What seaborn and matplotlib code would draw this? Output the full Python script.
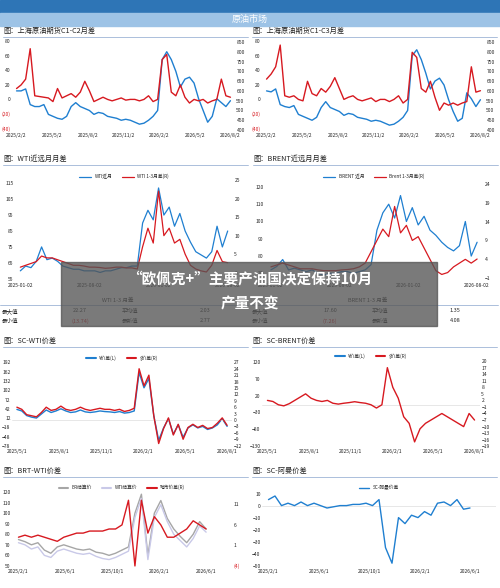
import numpy as np
import matplotlib.pyplot as plt
import seaborn as sns
from matplotlib.patches import Rectangle

sns.set_theme(style="white")
plt.rcParams['font.family'] = ['Noto Sans CJK SC', 'DejaVu Sans']

BLUE = '#1f7fd0'
RED = '#d71920'

# ---- data ----
c12_red = [15, 20, 28, 70, 5, 4, 3, 2, -3, 15, 2, 5, 8, 3, 10, 25, 12, -3, 0, 3, 0, -2, 0, 2,
           -1, 0, 0, -2, 0, 5, -3, 0, 55, 62, 10, 5, 20, 3, -5, 0, -2, 0, -5, -2, 0, 28, 5, 3]
c12_blue = [600, 600, 610, 530, 520, 520, 530, 480, 470, 460, 455, 470, 520, 540, 520, 510, 500, 480,
            490, 485, 470, 465, 460, 450, 455, 450, 440, 430, 435, 450, 470, 500, 760, 800, 760, 700,
            620, 660, 670, 640, 560, 500, 440, 470, 560, 540, 520, 550]
c13_red = [28, 35, 45, 75, 5, 3, 5, 0, -2, 25, 8, 5, 15, 10, 18, 30, 15, 0, 3, 5, 0, -2, 0, 2,
           -3, 0, 0, -3, 0, 5, -5, 0, 65, 58, 15, 10, 25, 3, -15, -5, -8, -5, -8, -5, -3, 45, 10, 12]
c13_blue = [600, 595, 610, 530, 520, 515, 525, 480, 470, 460, 450, 465, 515, 545, 515, 505, 495, 475,
            485, 480, 465, 460, 455, 445, 450, 445, 435, 425, 430, 445, 465, 500, 780, 810, 760, 690,
            610, 650, 665, 630, 555, 495, 445, 460, 590, 560, 520, 555]
c_ticks = ['2025/2/2', '2025/5/2', '2025/8/2', '2025/11/2', '2026/2/2', '2026/5/2', '2026/8/2']

wti_px = [60, 63, 62, 66, 75, 67, 68, 66, 63, 62, 61, 61, 60, 60, 60, 59, 60, 60, 61, 62, 62, 63, 63,
          90, 98, 92, 112, 95, 100, 88, 96, 85, 78, 72, 70, 68, 72, 88, 75, 85]
wti_sp = [1.5, 2, 2.5, 3, 4.5, 4, 4, 3.5, 3, 2.5, 2, 2, 1.8, 1.5, 1.5, 1.4, 1.2, 1.3, 1.5, 1.5, 1.3,
          1.3, 1, 7, 12, 8, 22, 10, 12, 8, 9, 5, 2, 1, 0.5, 0.2, 2, 6, 3, 2.7]
brent_px = [72, 74, 78, 72, 73, 72, 71, 72, 70, 69, 70, 70, 71, 71, 70, 71, 72, 75, 95, 105, 110, 102,
            115, 100, 108, 98, 103, 95, 92, 88, 85, 83, 86, 100, 80, 88]
brent_sp = [2, 2.5, 3, 2.5, 2, 1.5, 1.5, 1.5, 1.2, 1, 1, 1, 1.2, 1.3, 1.5, 2, 3, 6, 9, 12, 10, 18, 11,
            13, 9, 10, 7, 4, 1, 0, 0.5, 2, 3, 4, 3, 4.08]

scwti_cny = [40, 35, 20, 15, 12, 25, 38, 30, 35, 42, 35, 30, 32, 38, 32, 30, 32, 35, 33, 32, 30, 33,
             28, 30, 35, 160, 110, 140, 20, -60, -20, 10, -40, -10, -50, -20, -10, -20, -15, -25,
             -20, -10, 10, -15]
scwti_usd = [6, 5, 2.5, 2, 1.5, 3.5, 6, 4.5, 5, 6.5, 5, 4.5, 5, 6, 5, 4.5, 5, 5.5, 5, 5, 4.5, 5,
             4, 4.5, 5.5, 24, 16, 21, 2, -11, -4, 1, -7, -2, -9, -3.5, -2, -3.5, -2.5, -4,
             -3.5, -1.5, 1, -2.5]
scbr_usd = [2, 1.5, 0, -0.5, 0.5, 2, 3.5, 5, 3, 2, 1.5, 2, 0.7, 0.3, 0.7, 1, 1.4, 1, 0.7, 0,
            -1.5, 0, 17, 8, 3, -5.5, -8.5, -17, -11, -8.5, -7, -5.5, -4, -5.5, -7, -8.5, -10, -4, -7]

brt_br = [75, 73, 70, 72, 65, 62, 68, 70, 68, 66, 65, 66, 63, 62, 60, 62, 65, 68, 100, 118, 60, 100,
          112, 95, 85, 78, 72, 80, 92, 85]
brt_wti = [72, 70, 66, 68, 60, 58, 64, 66, 64, 62, 61, 62, 59, 57, 56, 58, 61, 64, 96, 114, 56, 96,
           108, 92, 80, 74, 68, 76, 88, 82]
brt_sp = [3, 3.5, 3, 3.5, 3, 2.5, 2, 3, 3.5, 4, 4, 4.5, 4.5, 4.5, 5, 5, 6, 12, -4, 12, 4, 8, 6, 3, 3,
          4, 5, 7, 6, 5]
oman = [5, 8, 0, 2, 0, 3, 0, 2, 0, -2, -1, 0, 0, 1, 1, 2, 0, 5, -35, -48, -10, -15, -8, -10, -5, -8,
        2, 3, 0, 5, -3, -2]

W, H = 500, 588
fig = plt.figure(figsize=(5, 5.88), dpi=100)
fig.patch.set_facecolor('white')


def pax(x0, y0, x1, y1):
    return fig.add_axes([x0 / W, 1 - y1 / H, (x1 - x0) / W, (y1 - y0) / H])


def style(ax):
    for s in ax.spines.values():
        s.set_visible(False)
    ax.tick_params(labelsize=3.6, length=0, pad=1)


def title(x, y, txt):
    fig.text(x / W, 1 - y / H, txt, fontsize=5.2, va='center', color='#222222')
    fig.add_artist(plt.Line2D([x / W, (x + 245) / W], [1 - (y + 6) / H] * 2, color='#9db4d6', lw=0.6))


def xlabels(ax, n, labels):
    ax.set_xticks(np.linspace(0, n - 1, len(labels)))
    ax.set_xticklabels(labels)
    ax.set_xlim(-1, n)


# header
fig.add_artist(Rectangle((0, 1 - 13 / H), 1, 13 / H, color='#2e75b6', transform=fig.transFigure))
fig.add_artist(Rectangle((0, 1 - 26 / H), 1, 13 / H, color='#9dc3e6', transform=fig.transFigure))
fig.text(0.5, 1 - 19.5 / H, '原油市场', color='white', fontsize=6.5, ha='center', va='center')


def dual(x0, y0, x1, y1, red, blue, lylim, lyt, rylim, ryt, labels, rlab=None):
    ax = pax(x0, y0, x1, y1)
    x = np.arange(len(red))
    sns.lineplot(x=x, y=red, ax=ax, color=RED, lw=1)
    ax.set_ylim(*lylim)
    ax.set_yticks(lyt)
    ax.set_yticklabels(rlab if rlab else [str(t) for t in lyt])
    style(ax)
    ax2 = ax.twinx()
    sns.lineplot(x=x, y=blue, ax=ax2, color=BLUE, lw=1)
    ax2.set_ylim(*rylim)
    ax2.set_yticks(ryt)
    style(ax2)
    ax.set_zorder(ax2.get_zorder() + 1)
    ax.patch.set_visible(False)
    xlabels(ax, len(red), labels)
    ax.set_ylabel('')
    ax2.set_ylabel('')
    return ax


lt = [-40, -20, 0, 20, 40, 60, 80]
ll = ['(40)', '(20)', '0', '20', '40', '60', '80']
title(3, 31, '图：上海原油期货C1-C2月差')
a = dual(12, 40, 235, 132, c12_red, c12_blue, (-45, 82), lt, (390, 860), range(400, 851, 50), c_ticks, ll)
for t in a.get_yticklabels()[:2]:
    t.set_color(RED)
title(252, 31, '图：上海原油期货C1-C3月差')
a = dual(262, 40, 485, 132, c13_red, c13_blue, (-45, 82), lt, (390, 860), range(400, 851, 50), c_ticks, ll)
for t in a.get_yticklabels()[:2]:
    t.set_color(RED)

# WTI / BRENT near-far
for (x0, name, px, sp, lylim, lyt, rylim, ryt, leg) in [
        (5, 'WTI', wti_px, wti_sp, (53, 117), range(55, 116, 10), (-2.5, 25), range(0, 26, 5),
         ['WTI近月', 'WTI 1-3月差(R)']),
        (255, 'BRENT', brent_px, brent_sp, (65, 124), range(70, 121, 10), (-2, 25), range(-1, 25, 5),
         ['BRENT 近月', 'Brent 1-3月差(R)'])]:
    title(x0 - 2, 159, f'图：{name}近远月月差')
    ax = pax(x0 + 10, 180, x0 + 228, 282)
    x = np.arange(len(px))
    sns.lineplot(x=x, y=px, ax=ax, color=BLUE, lw=0.9, label=leg[0], legend=False)
    ax.set_ylim(*lylim)
    ax.set_yticks(list(lyt))
    style(ax)
    ax2 = ax.twinx()
    sns.lineplot(x=x, y=sp, ax=ax2, color=RED, lw=0.9, legend=False)
    ax2.set_ylim(*rylim)
    ax2.set_yticks(list(ryt))
    style(ax2)
    xlabels(ax, len(px), ['2025-01-02', '2025-08-02', '2026-01-02', '2026-08-02'])
    ax.plot([], [], color=RED, lw=0.9, label=leg[1])
    ax.legend(loc='upper center', bbox_to_anchor=(0.5, 1.1), ncol=2, frameon=False, fontsize=3.4,
              handlelength=2.5)
    ax.set_ylabel('')
    ax2.set_ylabel('')

# stats tables
for x0, name, mx, mn, avg, last in [(0, 'WTI 1-3 月差', '22.27', '(13.74)', '2.03', '2.77'),
                                   (250, 'BRENT 1-3 月差', '17.60', '(7.26)', '1.35', '4.08')]:
    fig.text((x0 + 118) / W, 1 - 300 / H, name, fontsize=4, ha='center', va='center')
    fig.add_artist(plt.Line2D([x0 / W, (x0 + 248) / W], [1 - 305 / H] * 2, color='#9db4d6', lw=0.6))
    fig.text((x0 + 2) / W, 1 - 311 / H, '最大值', fontsize=4, va='center')
    fig.text((x0 + 80) / W, 1 - 311 / H, mx, fontsize=4, va='center', ha='center')
    fig.text((x0 + 130) / W, 1 - 311 / H, '平均值', fontsize=4, va='center', ha='center')
    fig.text((x0 + 205) / W, 1 - 311 / H, avg, fontsize=4, va='center', ha='center')
    fig.text((x0 + 2) / W, 1 - 321 / H, '最小值', fontsize=4, va='center')
    fig.text((x0 + 80) / W, 1 - 321 / H, mn, fontsize=4, va='center', ha='center', color=RED)
    fig.text((x0 + 130) / W, 1 - 321 / H, '最新值', fontsize=4, va='center', ha='center')
    fig.text((x0 + 205) / W, 1 - 321 / H, last, fontsize=4, va='center', ha='center')

# SC-WTI
title(3, 341, '图：SC-WTI价差')
ax = pax(12, 360, 232, 448)
x = np.arange(len(scwti_cny))
sns.lineplot(x=x, y=scwti_cny, ax=ax, color=BLUE, lw=1)
ax.set_ylim(-85, 200)
ax.set_yticks(range(-78, 193, 30))
ax.axhline(5, color='#dddddd', lw=0.5)
style(ax)
ax2 = ax.twinx()
sns.lineplot(x=x, y=scwti_usd, ax=ax2, color=RED, lw=1)
ax2.set_ylim(-13.1, 28.1)
ax2.set_yticks(range(-12, 28, 3))
style(ax2)
xlabels(ax, len(x), ['2025/5/1', '2025/8/1', '2025/11/1', '2026/2/1', '2026/5/1', '2026/8/1'])
ax.plot([], [], color=BLUE, label='¥价差(L)')
ax.plot([], [], color=RED, label='$价差(R)')
ax.legend(loc='upper center', bbox_to_anchor=(0.5, 1.1), ncol=2, frameon=False, fontsize=3.4)

# SC-BRENT
title(252, 341, '图：SC-BRENT价差')
ax = pax(262, 360, 480, 448)
x = np.arange(len(scbr_usd))
ax.set_ylim(-135, 125)
ax.set_yticks(range(-130, 121, 50))
style(ax)
ax2 = ax.twinx()
ax2.axhline(0, color='#dddddd', lw=0.5)
sns.lineplot(x=x, y=scbr_usd, ax=ax2, color=RED, lw=1)
ax2.set_ylim(-19.8, 20.5)
ax2.set_yticks(range(-19, 21, 3))
style(ax2)
xlabels(ax, len(x), ['2025/5/1', '2025/8/1', '2025/11/1', '2026/2/1', '2026/5/1', '2026/8/1'])
ax.plot([], [], color=BLUE, label='¥价差(L)')
ax.plot([], [], color=RED, label='$价差(R)')
ax.legend(loc='upper center', bbox_to_anchor=(0.5, 1.12), ncol=2, frameon=False, fontsize=3.4)

# BRT-WTI
title(3, 471, '图：BRT-WTI价差')
ax = pax(12, 490, 232, 568)
x = np.arange(len(brt_br))
sns.lineplot(x=x, y=brt_br, ax=ax, color='#a6a6a6', lw=1)
sns.lineplot(x=x, y=brt_wti, ax=ax, color='#c9c9e8', lw=1)
ax.set_ylim(48, 122)
ax.set_yticks(range(50, 121, 10))
style(ax)
ax2 = ax.twinx()
sns.lineplot(x=x, y=brt_sp, ax=ax2, color=RED, lw=1)
ax2.set_ylim(-4.5, 14.5)
ax2.set_yticks([-4, 1, 6, 11])
ax2.set_yticklabels(['(4)', '1', '6', '11'])
ax2.get_yticklabels()[0].set_color(RED)
style(ax2)
xlabels(ax, len(x), ['2025/2/1', '2025/6/1', '2025/10/1', '2026/2/1', '2026/6/1'])
ax.set_xlim(-1, len(x) + 3)
ax.plot([], [], color='#a6a6a6', label='BR结算价')
ax.plot([], [], color='#c9c9e8', label='WTI结算价')
ax.plot([], [], color=RED, label='跨市价差(R)')
ax.legend(loc='upper center', bbox_to_anchor=(0.5, 1.12), ncol=3, frameon=False, fontsize=3.4)

# SC-Oman
title(252, 471, '图：SC-阿曼价差')
ax = pax(262, 490, 496, 568)
x = np.arange(len(oman))
ax.axhline(0, color='#dddddd', lw=0.5)
sns.lineplot(x=x, y=oman, ax=ax, color=BLUE, lw=1, label='SC-阿曼价差')
ax.set_ylim(-52, 13)
ax.set_yticks(range(-50, 11, 10))
style(ax)
xlabels(ax, len(x), ['2025/2/1', '2025/6/1', '2025/10/1', '2026/2/1', '2026/6/1'])
ax.set_xlim(-1, len(x) + 3)
ax.legend(loc='upper center', bbox_to_anchor=(0.5, 1.12), frameon=False, fontsize=3.4)

# overlay banner
fig.add_artist(Rectangle((61 / W, 1 - 326 / H), 376 / W, 64 / H, color='#555555', alpha=0.78,
                         transform=fig.transFigure, zorder=10))
fig.text(0.5, 1 - 278 / H, '“欧佩克+”主要产油国决定保持10月', color='white', fontsize=10.5,
         fontweight='bold', ha='center', va='center', zorder=11)
fig.text(0.5, 1 - 303 / H, '产量不变', color='white', fontsize=10.5, fontweight='bold',
         ha='center', va='center', zorder=11)

fig.savefig('out.png', dpi=100)
